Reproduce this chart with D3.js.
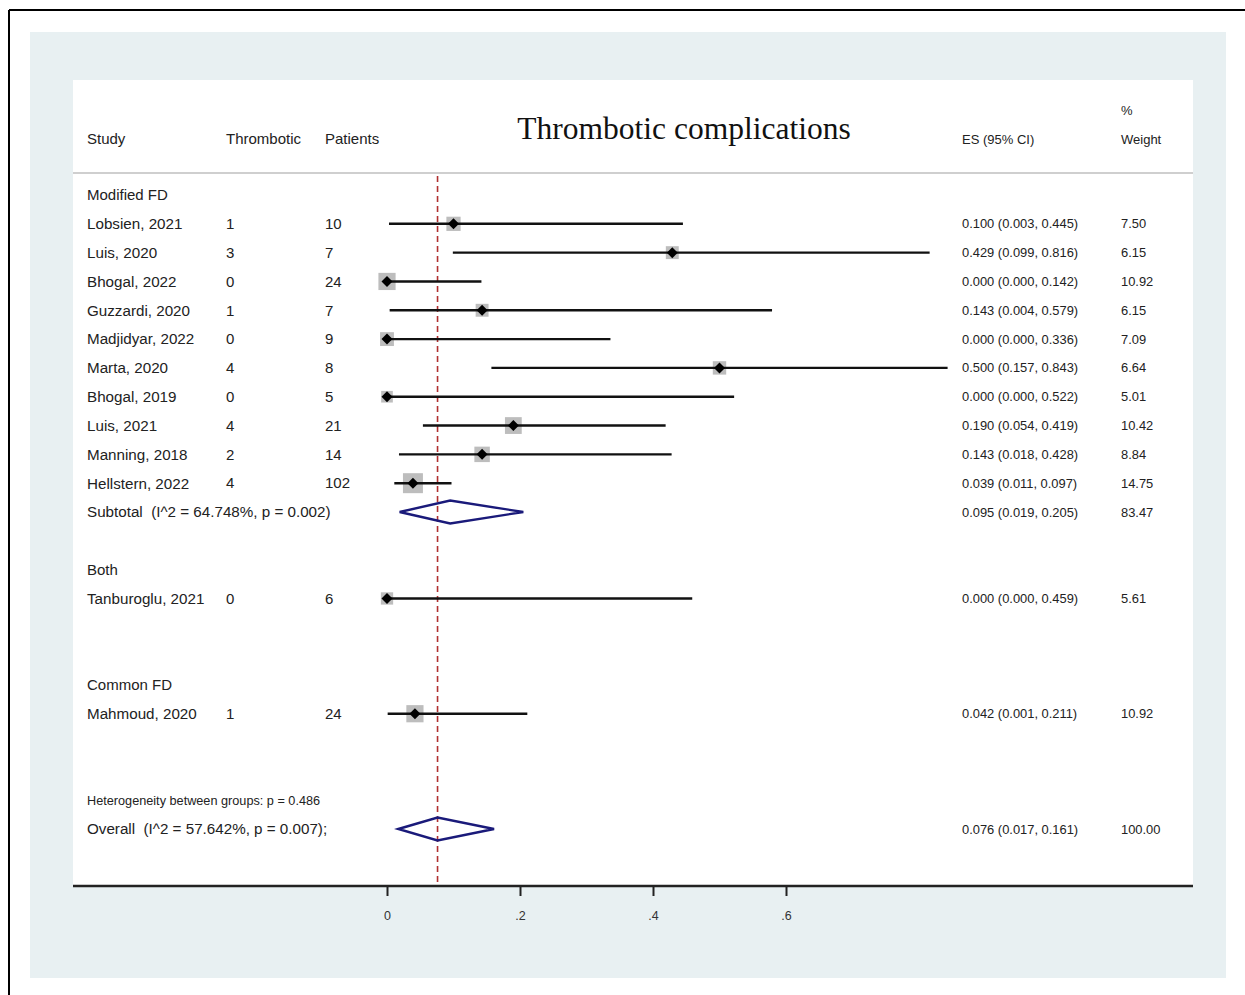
<!doctype html>
<html>
<head>
<meta charset="utf-8">
<script src="https://cdnjs.cloudflare.com/ajax/libs/d3/7.8.5/d3.min.js"></script>
<style>
  body { margin: 0; background: #fff; }
  svg { display: block; }
  .txt { font-family: "Liberation Sans", Arial, sans-serif; fill: #222; }
</style>
</head>
<body>
<svg id="chart" width="1245" height="995"></svg>
<script>
// study rows (row index = position in the table, 0 = "Modified FD")
var studies = ["Lobsien, 2021", "Luis, 2020", "Bhogal, 2022", "Guzzardi, 2020", "Madjidyar, 2022",
               "Marta, 2020", "Bhogal, 2019", "Luis, 2021", "Manning, 2018", "Hellstern, 2022",
               "Tanburoglu, 2021", "Mahmoud, 2020"];
var studyRows = [1, 2, 3, 4, 5, 6, 7, 8, 9, 10, 14, 18];
var thrombotic = [1, 3, 0, 1, 0, 4, 0, 4, 2, 4, 0, 1];
var patients = [10, 7, 24, 7, 9, 8, 5, 21, 14, 102, 6, 24];
var es = [0.100, 0.429, 0.000, 0.143, 0.000, 0.500, 0.000, 0.190, 0.143, 0.039, 0.000, 0.042];
var ciLow = [0.003, 0.099, 0.000, 0.004, 0.000, 0.157, 0.000, 0.054, 0.018, 0.011, 0.000, 0.001];
var ciHigh = [0.445, 0.816, 0.142, 0.579, 0.336, 0.843, 0.522, 0.419, 0.428, 0.097, 0.459, 0.211];
var weights = ["7.50", "6.15", "10.92", "6.15", "7.09", "6.64", "5.01", "10.42", "8.84", "14.75", "5.61", "10.92"];

var groupLabels = ["Modified FD", "Both", "Common FD"];
var groupRows = [0, 13, 17];

// pooled estimates
var pooledLabels = ["Subtotal  (I^2 = 64.748%, p = 0.002)", "Overall  (I^2 = 57.642%, p = 0.007);"];
var pooledRows = [11, 22];
var pooledEs = [0.095, 0.076];
var pooledLow = [0.019, 0.017];
var pooledHigh = [0.205, 0.161];
var pooledWeight = ["83.47", "100.00"];
var hetText = "Heterogeneity between groups: p = 0.486";
var hetRow = 21;

var xTicks = [0, 0.2, 0.4, 0.6];
var tickLabels = ["0", ".2", ".4", ".6"];

function fmt(v) { return v.toFixed(3); }

var svg = d3.select("#chart");

// frame + backgrounds
svg.append("line").attr("x1", 9).attr("x2", 1245).attr("y1", 10).attr("y2", 10)
  .attr("stroke", "#000").attr("stroke-width", 2);
svg.append("line").attr("x1", 9).attr("x2", 9).attr("y1", 10).attr("y2", 995)
  .attr("stroke", "#000").attr("stroke-width", 2);
svg.append("rect").attr("x", 30).attr("y", 32).attr("width", 1196).attr("height", 946)
  .attr("fill", "#e8f0f2");
svg.append("rect").attr("x", 73).attr("y", 80).attr("width", 1120).attr("height", 806)
  .attr("fill", "#fff");

var x = d3.scaleLinear().domain([0, 0.6]).range([387, 786]);
var y = d3.scaleLinear().domain([0, 22]).range([195, 829]);

// header
var hdr = svg.append("g").attr("class", "txt");
hdr.append("text").attr("x", 87).attr("y", 139).attr("dy", "0.35em").style("font-size", "15px").text("Study");
hdr.append("text").attr("x", 226).attr("y", 139).attr("dy", "0.35em").style("font-size", "15px").text("Thrombotic");
hdr.append("text").attr("x", 325).attr("y", 139).attr("dy", "0.35em").style("font-size", "15px").text("Patients");
hdr.append("text").attr("x", 962).attr("y", 139).attr("dy", "0.35em").style("font-size", "13px").text("ES (95% CI)");
hdr.append("text").attr("x", 1121).attr("y", 110).attr("dy", "0.35em").style("font-size", "13px").text("%");
hdr.append("text").attr("x", 1121).attr("y", 139).attr("dy", "0.35em").style("font-size", "13px").text("Weight");
svg.append("text").attr("x", 684).attr("y", 128).attr("dy", "0.35em")
  .attr("text-anchor", "middle")
  .style("font-family", "'Liberation Serif', 'Times New Roman', serif")
  .style("font-size", "31.5px").style("fill", "#111")
  .text("Thrombotic complications");

svg.append("line").attr("x1", 73).attr("x2", 1193).attr("y1", 173).attr("y2", 173)
  .attr("stroke", "#cfcfcf").attr("stroke-width", 2);

// reference line at overall estimate
svg.append("line").attr("x1", x(pooledEs[1])).attr("x2", x(pooledEs[1]))
  .attr("y1", 176).attr("y2", 886)
  .attr("stroke", "#b03030").attr("stroke-width", 1.6).attr("stroke-dasharray", "6,4");

// group labels
svg.append("g").attr("class", "txt").selectAll("text").data(groupLabels).join("text")
  .attr("x", 87).attr("y", (d, i) => y(groupRows[i])).attr("dy", "0.35em")
  .style("font-size", "15px").text(d => d);

// study rows
var rows = svg.append("g").selectAll("g").data(studies).join("g")
  .attr("class", "txt")
  .attr("transform", (d, i) => "translate(0," + y(studyRows[i]) + ")");

rows.append("text").attr("x", 87).attr("dy", "0.35em").style("font-size", "15.2px").text(d => d);
rows.append("text").attr("x", 226).attr("dy", "0.35em").style("font-size", "15px").text((d, i) => thrombotic[i]);
rows.append("text").attr("x", 325).attr("dy", "0.35em").style("font-size", "15px").text((d, i) => patients[i]);
rows.append("text").attr("x", 962).attr("dy", "0.35em").style("font-size", "12.9px")
  .text((d, i) => fmt(es[i]) + " (" + fmt(ciLow[i]) + ", " + fmt(ciHigh[i]) + ")");
rows.append("text").attr("x", 1121).attr("dy", "0.35em").style("font-size", "12.9px").text((d, i) => weights[i]);

rows.append("rect")
  .attr("x", (d, i) => x(es[i]) - 2.6 * Math.sqrt(+weights[i]))
  .attr("y", (d, i) => -2.6 * Math.sqrt(+weights[i]))
  .attr("width", (d, i) => 5.2 * Math.sqrt(+weights[i]))
  .attr("height", (d, i) => 5.2 * Math.sqrt(+weights[i]))
  .attr("fill", "#bdbdbd");
rows.append("line")
  .attr("x1", (d, i) => x(ciLow[i])).attr("x2", (d, i) => x(ciHigh[i]))
  .attr("stroke", "#111").attr("stroke-width", 2.4);
rows.append("path")
  .attr("d", (d, i) => {
    var cx = x(es[i]), s = 5.5;
    return "M" + (cx - s) + ",0L" + cx + "," + (-s) + "L" + (cx + s) + ",0L" + cx + "," + s + "Z";
  })
  .attr("fill", "#000");

// pooled rows
var pooled = svg.append("g").selectAll("g").data(pooledLabels).join("g")
  .attr("class", "txt")
  .attr("transform", (d, i) => "translate(0," + y(pooledRows[i]) + ")");
pooled.append("text").attr("x", 87).attr("dy", "0.35em").style("font-size", "15.2px")
  .text(d => d.replace("  ", "\u00a0 "));
pooled.append("text").attr("x", 962).attr("dy", "0.35em").style("font-size", "12.9px")
  .text((d, i) => fmt(pooledEs[i]) + " (" + fmt(pooledLow[i]) + ", " + fmt(pooledHigh[i]) + ")");
pooled.append("text").attr("x", 1121).attr("dy", "0.35em").style("font-size", "12.9px").text((d, i) => pooledWeight[i]);
pooled.append("path")
  .attr("d", (d, i) => {
    var h = 11.5;
    return "M" + x(pooledLow[i]) + ",0L" + x(pooledEs[i]) + "," + (-h) + "L" + x(pooledHigh[i]) + ",0L" +
      x(pooledEs[i]) + "," + h + "Z";
  })
  .attr("fill", "none").attr("stroke", "#1a1a7a").attr("stroke-width", 2.4);

svg.append("text").attr("class", "txt").attr("x", 87).attr("y", y(hetRow)).attr("dy", "0.35em")
  .style("font-size", "12.7px").text(hetText);

// axis
var axis = d3.axisBottom(x).tickValues(xTicks).tickSize(10).tickPadding(15)
  .tickFormat((d, i) => tickLabels[i]);
var gx = svg.append("g").attr("transform", "translate(0,886)").call(axis);
gx.select(".domain").remove();
gx.selectAll(".tick line").attr("stroke", "#222").attr("stroke-width", 2);
gx.selectAll(".tick text").style("font-family", "'Liberation Sans', Arial, sans-serif")
  .style("font-size", "12.5px").attr("fill", "#333");
svg.append("line").attr("x1", 73).attr("x2", 1193).attr("y1", 886).attr("y2", 886)
  .attr("stroke", "#222").attr("stroke-width", 2.4);
</script>
</body>
</html>
